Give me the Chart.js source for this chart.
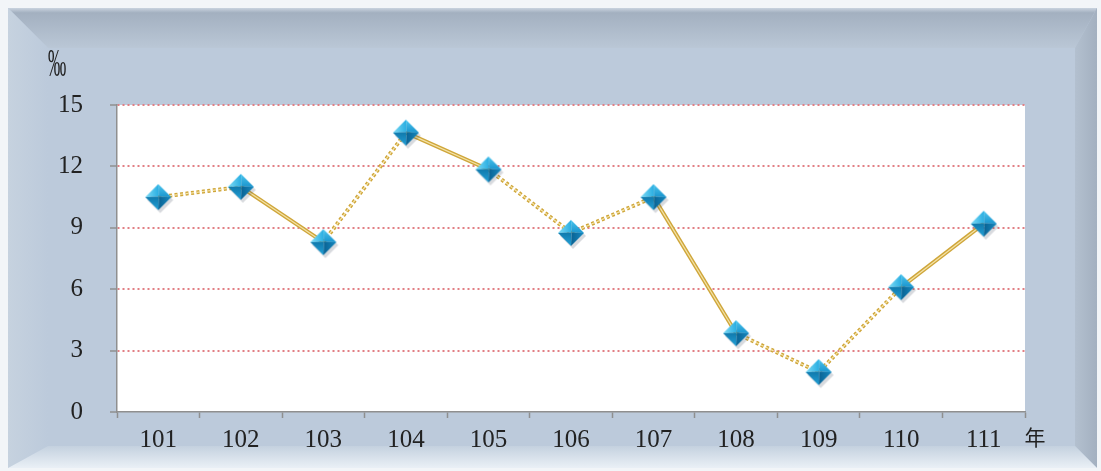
<!DOCTYPE html>
<html lang="zh-Hant">

<head>
    <meta charset="utf-8">
    <title>年別比率</title>
    <script src="https://cdn.jsdelivr.net/npm/chart.js"></script>
    <style>
        html,
        body {
            margin: 0;
            padding: 0;
            background: #ffffff;
        }

        #wrap {
            width: 1101px;
            height: 471px;
        }
    </style>
</head>

<body>
    <div id="wrap"><canvas id="rateChart" width="1101" height="471"></canvas></div>
    <script>
        // data
        const years = ['101', '102', '103', '104', '105', '106', '107', '108', '109', '110', '111'];
        const rates = [10.5, 11.0, 8.3, 13.65, 11.85, 8.75, 10.5, 3.85, 1.95, 6.1, 9.2];
        const yTicks = [0, 3, 6, 9, 12, 15];
        // which segments are dotted (between year i and i+1)
        const dottedSeg = [true, false, true, false, true, true, false, true, true, false];

        const serif = '"Liberation Serif", "DejaVu Serif", serif';

        // blue pyramid marker
        function makeMarker() {
            const c = document.createElement('canvas');
            c.width = 34; c.height = 34;
            const g = c.getContext('2d');
            const cx = 17, cy = 17, r = 13;
            // soft shadow
            g.fillStyle = 'rgba(60,70,90,0.2)';
            g.beginPath();
            g.moveTo(cx + 2, cy - r + 3); g.lineTo(cx + r + 2, cy + 3);
            g.lineTo(cx + 2, cy + r + 3); g.lineTo(cx - r + 2, cy + 3);
            g.closePath(); g.fill();
            const top = [cx, cy - r], right = [cx + r, cy], bottom = [cx, cy + r], left = [cx - r, cy];
            const apex = [cx + 0.5, cy - 0.5];
            const facets = [
                [left, top, '#7fdcf6', '#2aaee2'],
                [top, right, '#4cc6ef', '#1d98d0'],
                [right, bottom, '#1689c0', '#0a6394'],
                [bottom, left, '#22a0d6', '#1078ab']
            ];
            facets.forEach(f => {
                const grd = g.createLinearGradient(f[0][0], f[0][1], apex[0], apex[1]);
                grd.addColorStop(0, f[2]);
                grd.addColorStop(1, f[3]);
                g.fillStyle = grd;
                g.beginPath();
                g.moveTo(f[0][0], f[0][1]);
                g.lineTo(f[1][0], f[1][1]);
                g.lineTo(apex[0], apex[1]);
                g.closePath();
                g.fill();
            });
            return c;
        }

        // bevelled frame behind the chart
        const framePlugin = {
            id: 'frame',
            beforeDraw(chart) {
                const ctx = chart.ctx;
                const W = chart.width, H = chart.height;
                const x0 = 8, y0 = 8, x1 = W - 4, y1 = H - 3;
                const lw = 40, tw = 40, rw = 22, bw = 22;
                ctx.save();
                ctx.fillStyle = '#f2f5f8';
                ctx.fillRect(0, 0, W, H);
                ctx.fillStyle = '#bccadb';
                ctx.fillRect(x0, y0, x1 - x0, y1 - y0);

                // top
                let grd = ctx.createLinearGradient(0, y0, 0, y0 + tw);
                grd.addColorStop(0, '#c9d3df');
                grd.addColorStop(0.12, '#a3b0c0');
                grd.addColorStop(1, '#bac7d6');
                ctx.fillStyle = grd;
                ctx.beginPath();
                ctx.moveTo(x0, y0); ctx.lineTo(x1, y0);
                ctx.lineTo(x1 - rw, y0 + tw); ctx.lineTo(x0 + lw, y0 + tw);
                ctx.closePath(); ctx.fill();

                // left
                grd = ctx.createLinearGradient(x0, 0, x0 + lw, 0);
                grd.addColorStop(0, '#c6d2df');
                grd.addColorStop(1, '#bccadb');
                ctx.fillStyle = grd;
                ctx.beginPath();
                ctx.moveTo(x0, y0); ctx.lineTo(x0 + lw, y0 + tw);
                ctx.lineTo(x0 + lw, y1 - bw); ctx.lineTo(x0, y1);
                ctx.closePath(); ctx.fill();

                // right
                grd = ctx.createLinearGradient(x1 - rw, 0, x1, 0);
                grd.addColorStop(0, '#b3c0cf');
                grd.addColorStop(1, '#a3b0c0');
                ctx.fillStyle = grd;
                ctx.beginPath();
                ctx.moveTo(x1, y0); ctx.lineTo(x1, y1);
                ctx.lineTo(x1 - rw, y1 - bw); ctx.lineTo(x1 - rw, y0 + tw);
                ctx.closePath(); ctx.fill();

                // bottom
                grd = ctx.createLinearGradient(0, y1 - bw, 0, y1);
                grd.addColorStop(0, '#c4d1df');
                grd.addColorStop(1, '#eaf0f6');
                ctx.fillStyle = grd;
                ctx.beginPath();
                ctx.moveTo(x0, y1); ctx.lineTo(x0 + lw, y1 - bw);
                ctx.lineTo(x1 - rw, y1 - bw); ctx.lineTo(x1, y1);
                ctx.closePath(); ctx.fill();

                // white plot face
                const a = chart.chartArea;
                ctx.fillStyle = '#ffffff';
                ctx.fillRect(a.left, a.top, a.right - a.left, a.bottom - a.top);
                ctx.restore();
            },
            afterDraw(chart) {
                const ctx = chart.ctx;
                const a = chart.chartArea;
                ctx.save();
                ctx.fillStyle = '#222222';
                ctx.textAlign = 'center';
                ctx.textBaseline = 'middle';
                // tall, narrow per-mille sign
                ctx.save();
                ctx.translate(57, 66);
                ctx.scale(0.7, 1.5);
                ctx.font = '26px ' + serif;
                ctx.fillText('‰', 0, 0);
                ctx.restore();
                ctx.font = '21px "Noto Sans CJK TC", "Noto Sans CJK SC", sans-serif';
                ctx.fillText('年', a.right + 10, 437);
                ctx.restore();
            }
        };

        const ctx = document.getElementById('rateChart').getContext('2d');
        const gold = '#cfa63a';
        const segDash = c => dottedSeg[c.p0DataIndex] ? [3, 2.5] : undefined;

        new Chart(ctx, {
            type: 'line',
            data: {
                labels: years,
                datasets: [
                    {
                        data: rates,
                        showLine: false,
                        pointStyle: makeMarker(),
                        pointRadius: 13,
                        order: 0
                    },
                    {
                        data: rates,
                        borderColor: '#f4e3a8',
                        borderWidth: 1.2,
                        pointRadius: 0,
                        segment: { borderDash: segDash },
                        order: 1
                    },
                    {
                        data: rates,
                        borderColor: gold,
                        borderWidth: 4,
                        pointRadius: 0,
                        segment: { borderDash: segDash },
                        order: 2
                    }
                ]
            },
            options: {
                responsive: false,
                animation: false,
                events: [],
                layout: { padding: { left: 0, top: 105, right: 76, bottom: 0 } },
                plugins: { legend: { display: false }, tooltip: { enabled: false } },
                scales: {
                    x: {
                        offset: true,
                        afterFit: s => { s.height = 59; },
                        border: { color: '#8f8f8f', width: 1.5 },
                        grid: {
                            offset: true,
                            drawOnChartArea: false,
                            tickLength: 6,
                            tickColor: '#8f8f8f',
                            tickWidth: 1.5
                        },
                        ticks: {
                            color: '#222222',
                            padding: 7,
                            font: { family: serif, size: 25 }
                        }
                    },
                    y: {
                        min: 0,
                        max: 15,
                        afterFit: s => { s.width = 117; },
                        afterBuildTicks: s => { s.ticks = yTicks.map(v => ({ value: v })); },
                        border: { color: '#8f8f8f', width: 1.5, dash: [2, 3] },
                        grid: {
                            color: c => c.tick.value === 0 ? 'rgba(0,0,0,0)' : '#e27f84',
                            lineWidth: 2,
                            tickLength: 7,
                            tickColor: '#8f8f8f',
                            tickWidth: 1.5,
                            tickBorderDash: []
                        },
                        ticks: {
                            color: '#222222',
                            padding: 27,
                            font: { family: serif, size: 25 }
                        }
                    }
                }
            },
            plugins: [framePlugin]
        });
    </script>
</body>

</html>
